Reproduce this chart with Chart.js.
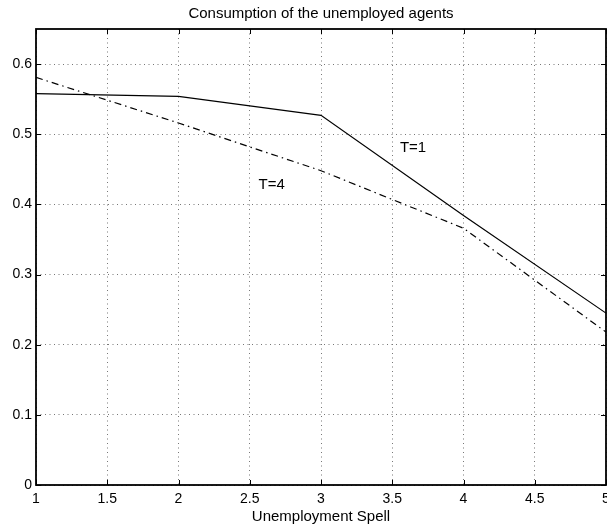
<!DOCTYPE html>
<html>
<head>
<meta charset="utf-8">
<script src="https://cdn.jsdelivr.net/npm/chart.js@4/dist/chart.umd.min.js"></script>
<style>
    html, body { margin: 0; padding: 0; background: #fff; }
    #wrap { width: 607px; height: 529px; }
</style>
</head>
<body>
<div id="wrap"><canvas id="chart" width="607" height="529"></canvas></div>
<script>
// ── Data ──────────────────────────────────────────────────────────────
const spell       = [1, 2, 3, 4, 5];
const consT1      = [0.558, 0.554, 0.527, 0.384, 0.245];
const consT4      = [0.581, 0.516, 0.448, 0.366, 0.218];
const xTickValues = [1, 1.5, 2, 2.5, 3, 3.5, 4, 4.5, 5];
const yTickValues = [0, 0.1, 0.2, 0.3, 0.4, 0.5, 0.6];

const labelNotes = [
    { text: 'T=1', x: 3.646, y: 0.475 },
    { text: 'T=4', x: 2.654, y: 0.422 },
];

const FONT = '"Liberation Sans", Arial, Helvetica, sans-serif';
const toPoints = ys => spell.map((x, i) => ({ x, y: ys[i] }));

// ── Box, inward ticks, title and line labels ──────────────────────────
const matlabFrame = {
    id: 'matlabFrame',
    afterDatasetsDraw(chart) {
        const { ctx, chartArea: a, scales: { x, y } } = chart;
        const tick = 5;
        ctx.save();
        ctx.strokeStyle = '#000';
        ctx.lineWidth = 1;
        ctx.beginPath();
        xTickValues.forEach(v => {
            const px = Math.round(x.getPixelForValue(v)) + 0.5;
            ctx.moveTo(px, a.bottom); ctx.lineTo(px, a.bottom - tick);
            ctx.moveTo(px, a.top);    ctx.lineTo(px, a.top + tick);
        });
        yTickValues.forEach(v => {
            const py = Math.round(y.getPixelForValue(v)) + 0.5;
            ctx.moveTo(a.left, py);  ctx.lineTo(a.left + tick, py);
            ctx.moveTo(a.right, py); ctx.lineTo(a.right - tick, py);
        });
        ctx.stroke();

        ctx.lineWidth = 1.8;
        ctx.strokeRect(a.left, a.top, a.right - a.left, a.bottom - a.top);

        ctx.fillStyle = '#000';
        ctx.font = `15px ${FONT}`;
        ctx.textAlign = 'center';
        ctx.textBaseline = 'alphabetic';
        ctx.fillText('Consumption of the unemployed agents', (a.left + a.right) / 2, 18);

        labelNotes.forEach(n => {
            ctx.fillText(n.text, x.getPixelForValue(n.x), y.getPixelForValue(n.y));
        });
        ctx.restore();
    },
};

// ── Chart ─────────────────────────────────────────────────────────────
new Chart(document.getElementById('chart'), {
    type: 'line',
    data: {
        datasets: [
            {
                label:       'T=1',
                data:        toPoints(consT1),
                borderColor: '#000',
                borderWidth: 1.2,
                pointRadius: 0,
                tension:     0,
                fill:        false,
            },
            {
                label:       'T=4',
                data:        toPoints(consT4),
                borderColor: '#000',
                borderWidth: 1.2,
                borderDash:  [7, 4, 1.5, 4],
                pointRadius: 0,
                tension:     0,
                fill:        false,
            },
        ],
    },
    options: {
        responsive: false,
        animation:  false,
        layout: { padding: { top: 29, right: 1, left: 0, bottom: 0 } },
        plugins: {
            legend:  { display: false },
            tooltip: { enabled: false },
            title:   { display: false },
        },
        scales: {
            x: {
                type: 'linear',
                min:  1,
                max:  5,
                afterBuildTicks: s => { s.ticks = xTickValues.map(value => ({ value })); },
                afterFit: s => { s.height = 44; s.paddingLeft = 0; s.paddingRight = 0; },
                grid:   { color: '#777', lineWidth: 1, drawTicks: false },
                border: { display: false, dash: [1, 3.5] },
                ticks: {
                    color:       '#000',
                    font:        { family: FONT, size: 14 },
                    padding:     6,
                    maxRotation: 0,
                    autoSkip:    false,
                    callback:    v => String(v),
                },
                title: {
                    display: true,
                    text:    'Unemployment Spell',
                    color:   '#000',
                    font:    { family: FONT, size: 15 },
                    padding: { top: 0, bottom: 3 },
                },
            },
            y: {
                min: 0,
                max: 0.65,
                afterBuildTicks: s => { s.ticks = yTickValues.map(value => ({ value })); },
                afterFit: s => { s.width = 36; s.paddingTop = 0; s.paddingBottom = 0; },
                grid:   { color: '#777', lineWidth: 1, drawTicks: false },
                border: { display: false, dash: [1, 3.5] },
                ticks: {
                    color:    '#000',
                    font:     { family: FONT, size: 14 },
                    padding:  4,
                    callback: v => String(v),
                },
            },
        },
    },
    plugins: [matlabFrame],
});
</script>
</body>
</html>
